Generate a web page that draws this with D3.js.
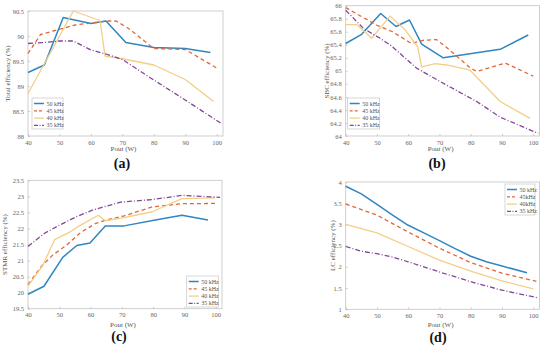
<!DOCTYPE html>
<html>
<head>
<meta charset="utf-8">
<script src="https://cdn.jsdelivr.net/npm/d3@7"></script>
<style>
  body { margin: 0; background: #fff; }
  svg { display: block; }
  text { font-family: "Liberation Serif", "DejaVu Serif", serif; }
</style>
</head>
<body>
<div id="chart"></div>
<script>
// ---- data ----
var freqNames = ["50 kHz", "45 kHz", "40 kHz", "35 kHz"];
var freqNamesD = ["50 kHz", "45kHz", "40kHz", "35 kHz"];
var xTicks = [40, 50, 60, 70, 80, 90, 100];

// (a) Total efficiency [Pout, %]
var total50 = [[40, 89.27], [45.2, 89.42], [51.2, 90.37], [60, 90.25], [64.8, 90.3], [71.1, 89.87], [80, 89.77], [90, 89.75], [98, 89.67]];
var total45 = [[40, 89.65], [44, 90.03], [48, 90.1], [55, 90.22], [60, 90.26], [65, 90.3], [68, 90.3], [72, 90.15], [80, 89.75], [90, 89.73], [100, 89.36]];
var total40 = [[40, 88.85], [54.4, 90.5], [62.9, 90.31], [64.5, 89.6], [70.4, 89.54], [80, 89.42], [90, 89.13], [99, 88.69]];
var total35 = [[40, 89.85], [45, 89.87], [50, 89.9], [54.4, 89.9], [60, 89.72], [64.8, 89.64], [70, 89.53], [80, 89.12], [90, 88.72], [101.7, 88.24]];
var totalTicks = [88, 88.5, 89, 89.5, 90, 90.5];

// (b) SBC efficiency
var sbc50 = [[40, 65.42], [45.1, 65.56], [51.2, 65.88], [56.1, 65.68], [60.4, 65.78], [64.3, 65.41], [71.2, 65.2], [89.4, 65.33], [98.4, 65.55]];
var sbc45 = [[40, 65.97], [50, 65.7], [55, 65.6], [61, 65.42], [65, 65.47], [69, 65.48], [72, 65.37], [80, 65.04], [82, 64.99], [91, 65.12], [100, 64.92]];
var sbc40 = [[40, 65.71], [43.5, 65.71], [48.3, 65.5], [54.2, 65.84], [59, 65.63], [63, 65.37], [64.3, 65.06], [68.6, 65.11], [72.3, 65.09], [79.8, 65.01], [89.4, 64.53], [99, 64.27]];
var sbc35 = [[40, 65.93], [45.7, 65.65], [51, 65.5], [54.7, 65.38], [62.7, 65.04], [71.2, 64.81], [81.9, 64.53], [89.4, 64.29], [101.6, 64.04]];
var sbcTicks = [64, 64.2, 64.4, 64.6, 64.8, 65, 65.2, 65.4, 65.6, 65.8, 66];

// (c) STMR efficiency
var stmr50 = [[40, 19.95], [45.1, 20.2], [51.1, 21.1], [55.6, 21.47], [59.8, 21.55], [64.7, 22.08], [70.7, 22.08], [80.7, 22.26], [89.2, 22.41], [97.5, 22.26]];
var stmr45 = [[40, 20.25], [44.2, 20.81], [47.9, 21.17], [52.2, 21.47], [56.9, 21.88], [61.7, 22.16], [64.9, 22.26], [70.7, 22.39], [79.7, 22.67], [89.2, 22.77], [100.3, 22.78]];
var stmr40 = [[40, 20.2], [44.8, 20.86], [48.5, 21.65], [53.2, 21.88], [56.4, 22.08], [62.5, 22.41], [64.7, 22.24], [70.7, 22.34], [79.7, 22.52], [89.2, 22.93], [99.8, 22.95]];
var stmr35 = [[40, 21.44], [45.3, 21.85], [50, 22.1], [55.3, 22.36], [60.6, 22.57], [69.6, 22.82], [79.7, 22.9], [89.2, 23.03], [101.4, 22.97]];
var stmrTicks = [19.5, 20, 20.5, 21, 21.5, 22, 22.5, 23, 23.5];

// (d) LC efficiency
var lc50 = [[40, 3.9], [45, 3.72], [50, 3.47], [55, 3.22], [60, 2.98], [65, 2.8], [70, 2.62], [75, 2.43], [80, 2.25], [85, 2.12], [90, 2.02], [98, 1.86]];
var lc45 = [[40, 3.48], [50, 3.22], [60, 2.82], [70, 2.44], [80, 2.1], [90, 1.85], [101, 1.66]];
var lc40 = [[40, 3.0], [50, 2.8], [60, 2.48], [70, 2.16], [80, 1.9], [90, 1.67], [100, 1.48]];
var lc35 = [[40, 2.48], [45, 2.37], [50, 2.31], [55, 2.23], [60, 2.12], [70, 1.88], [80, 1.65], [90, 1.45], [101.6, 1.27]];
var lcTicks = [1, 1.5, 2, 2.5, 3, 3.5, 4];

// ---- styles ----
var colors = ["#2f86c2", "#e0673c", "#f2cf86", "#84469a"];
var dashes = [null, "4,3", null, "5,2,1,2"];
var widths = [1.5, 1.3, 1.3, 1.3];

var svg = d3.select("#chart").append("svg")
  .attr("width", 550)
  .attr("height", 347);

function drawPanel(p) {
  var xScale = d3.scaleLinear().domain([40, 102]).range([p.left, p.right]);
  var yScale = d3.scaleLinear().domain(p.yDomain).range([p.bottom, p.top]);
  var g = svg.append("g");

  /* box */
  g.append("rect")
    .attr("x", p.left).attr("y", p.top)
    .attr("width", p.right - p.left).attr("height", p.bottom - p.top)
    .attr("fill", "none").attr("stroke", "#c4c4c4").attr("stroke-width", 0.8);

  /* axes */
  var xAxis = d3.axisBottom(xScale).tickValues(xTicks).tickSize(-2).tickPadding(4)
    .tickFormat(d3.format("d"));
  var yAxis = d3.axisLeft(yScale).tickValues(p.yTicks).tickSize(-2).tickPadding(4)
    .tickFormat(function(d){ return String(+d.toFixed(1)); });

  var gx = g.append("g").attr("transform", "translate(0," + p.bottom + ")").call(xAxis);
  var gy = g.append("g").attr("transform", "translate(" + p.left + ",0)").call(yAxis);
  [gx, gy].forEach(function(a){
    a.select(".domain").remove();
    a.selectAll("line").attr("stroke", "#b0b0b0").attr("stroke-width", 0.6);
    a.selectAll("text").attr("fill", "#666").style("font-size", "6.5px")
      .style("font-family", "'Liberation Serif', serif");
  });

  /* lines */
  var line = d3.line()
    .x(function(d){ return xScale(d[0]); })
    .y(function(d){ return yScale(d[1]); });

  p.series.forEach(function(s, i){
    g.append("path")
      .attr("d", line(s))
      .attr("fill", "none")
      .attr("stroke", colors[i])
      .attr("stroke-width", widths[i])
      .attr("stroke-dasharray", dashes[i])
      .attr("stroke-linejoin", "round");
  });

  /* axis labels */
  g.append("text")
    .attr("x", (p.left + p.right) / 2 - 2).attr("y", p.bottom + p.xLabelGap)
    .attr("text-anchor", "middle").attr("fill", "#555")
    .style("font-size", "7px").text("Pout (W)");

  g.append("text")
    .attr("transform", "translate(" + p.yLabelX + "," + (p.top + p.bottom) / 2 + ") rotate(-90)")
    .attr("text-anchor", "middle").attr("dominant-baseline", "central")
    .attr("fill", "#555").style("font-size", "7px").text(p.yLabel);

  g.append("text")
    .attr("x", p.capX).attr("y", p.capY)
    .attr("text-anchor", "middle").attr("fill", "#111")
    .style("font-size", "14px").style("font-weight", "bold")
    .text(p.caption);

  /* legend */
  var lg = g.append("g").attr("transform", "translate(" + p.legX + "," + p.legY + ")");
  lg.append("rect")
    .attr("width", p.legW).attr("height", 31)
    .attr("fill", "#fff").attr("stroke", "#bdbdbd").attr("stroke-width", 0.6);
  p.names.forEach(function(n, i){
    var yy = 5.5 + i * 7.3;
    lg.append("line")
      .attr("x1", 2).attr("x2", 12).attr("y1", yy).attr("y2", yy)
      .attr("stroke", colors[i]).attr("stroke-width", widths[i])
      .attr("stroke-dasharray", dashes[i] ? (i == 1 ? "3,2" : "4,1.5,1,1.5") : null);
    lg.append("text")
      .attr("x", 14.5).attr("y", yy).attr("dominant-baseline", "central")
      .attr("fill", "#555").style("font-size", "6px").text(n);
  });
}

var panels = [
  { left: 28, right: 223, top: 11, bottom: 136, yDomain: [88, 90.5], yTicks: totalTicks,
    series: [total50, total45, total40, total35], names: freqNames,
    yLabel: "Total efficiency (%)", yLabelX: 8, xLabelGap: 15, caption: "(a)", capX: 122, capY: 168,
    legX: 32, legY: 98, legW: 31 },
  { left: 345.7, right: 539.5, top: 5.7, bottom: 136, yDomain: [64, 66], yTicks: sbcTicks,
    series: [sbc50, sbc45, sbc40, sbc35], names: freqNames,
    yLabel: "SBC efficiency (%)", yLabelX: 327, xLabelGap: 15, caption: "(b)", capX: 437, capY: 168,
    legX: 347.7, legY: 98, legW: 32 },
  { left: 28, right: 222, top: 180.3, bottom: 308.7, yDomain: [19.5, 23.5], yTicks: stmrTicks,
    series: [stmr50, stmr45, stmr40, stmr35], names: freqNames,
    yLabel: "STMR efficiency (%)", yLabelX: 5, xLabelGap: 18, caption: "(c)", capX: 119, capY: 341,
    legX: 186.7, legY: 276, legW: 31.6 },
  { left: 345.7, right: 539.5, top: 182, bottom: 309.3, yDomain: [1, 4], yTicks: lcTicks,
    series: [lc50, lc45, lc40, lc35], names: freqNamesD,
    yLabel: "LC efficiency (%)", yLabelX: 333, xLabelGap: 18, caption: "(d)", capX: 438, capY: 342,
    legX: 505, legY: 184, legW: 30 }
];

panels.forEach(drawPanel);
</script>
</body>
</html>
